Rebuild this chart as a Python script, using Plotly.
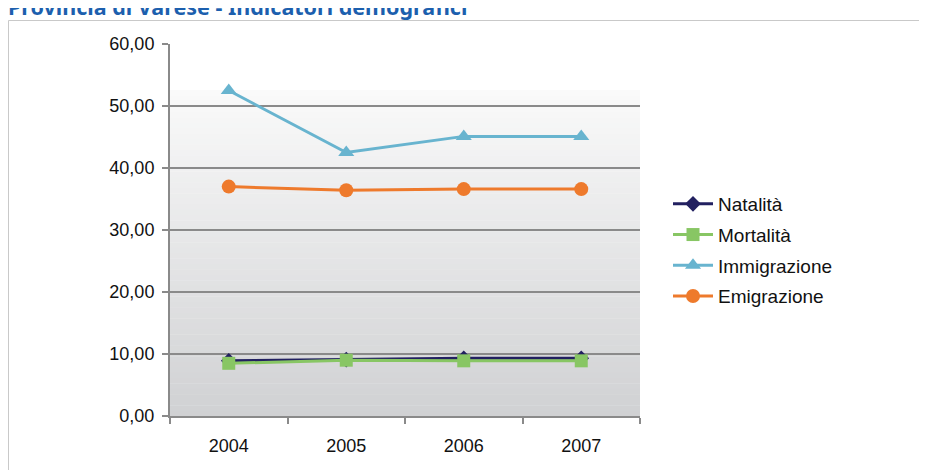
import plotly.graph_objects as go

years = ["2004", "2005", "2006", "2007"]
natalita = [8.9, 9.1, 9.3, 9.3]
mortalita = [8.5, 9.0, 8.9, 8.9]
immigrazione = [52.5, 42.5, 45.1, 45.1]
emigrazione = [37.0, 36.4, 36.6, 36.6]
series_names = ["Natalità", "Mortalità", "Immigrazione", "Emigrazione"]
y_tick_vals = [0, 10, 20, 30, 40, 50, 60]

OFF = 8  # default page body margin
W, H = 927 - OFF, 470 - OFF
# plot area in page pixels: x 170..640, y 44..416
L, T = 170 - OFF, 44 - OFF
R = W - (640 - OFF)
B = H - (416 - OFF)
PW, PH = W - L - R, H - T - B

def px_x(p):  # page pixel -> paper
    return (p - OFF - L) / PW

def px_y(p):
    return 1 - (p - OFF - T) / PH

fig = go.Figure()
styles = [
    dict(color="#222060", symbol="diamond", size=12),
    dict(color="#88c664", symbol="square", size=13),
    dict(color="#68b4cf", symbol="triangle-up", size=14),
    dict(color="#ee7a2c", symbol="circle", size=14),
]
for name, vals, st in zip(series_names, [natalita, mortalita, immigrazione, emigrazione], styles):
    fig.add_trace(go.Scatter(
        x=years, y=vals, name=name, mode="lines+markers", legendgroup=name,
        line=dict(color=st["color"], width=3),
        marker=dict(color=st["color"], symbol=st["symbol"], size=st["size"]),
    ))

# gradient background bands (decoration)
shapes = []
top_white = 90  # page pixel where gradient begins
bottom = 416
n = 60
c0 = (250, 250, 250)
c1 = (208, 209, 211)
shapes.append(dict(type="rect", xref="paper", yref="paper", x0=0, x1=1,
                   y0=px_y(top_white), y1=1, fillcolor="white", line_width=0, layer="below"))
for i in range(n):
    y0p = top_white + (bottom - top_white) * i / n
    y1p = top_white + (bottom - top_white) * (i + 1) / n
    t = (i + 0.5) / n
    c = tuple(round(c0[k] + (c1[k] - c0[k]) * t) for k in range(3))
    shapes.append(dict(type="rect", xref="paper", yref="paper", x0=0, x1=1,
                       y0=px_y(y1p) - 0.001, y1=px_y(y0p),
                       fillcolor="rgb(%d,%d,%d)" % c, line_width=0, layer="below"))
# outer border box
shapes.append(dict(type="rect", xref="paper", yref="paper",
                   x0=px_x(8.5), x1=px_x(940), y0=px_y(480), y1=px_y(20.5),
                   line=dict(color="#c9c9c9", width=1), fillcolor="rgba(0,0,0,0)", layer="below"))

fig.update_layout(
    width=W, height=H,
    margin=dict(l=L, r=R, t=T, b=B, autoexpand=False),
    paper_bgcolor="white", plot_bgcolor="rgba(0,0,0,0)",
    separators=",.",
    font=dict(family="Liberation Sans, Arial, sans-serif", size=18, color="#111111"),
    shapes=shapes,
    showlegend=True,
    legend=dict(x=px_x(668), y=px_y(185), xanchor="left", yanchor="top",
                font=dict(size=19, color="#111111"), tracegroupgap=3, itemwidth=40,
                bgcolor="rgba(0,0,0,0)"),
    annotations=[dict(
        text="<b>Provincia di Varese - Indicatori demografici</b>",
        xref="paper", yref="paper", x=px_x(6), y=px_y(23),
        xanchor="left", yanchor="bottom", showarrow=False,
        font=dict(family="Noto Sans, Open Sans, sans-serif", size=21.5, color="#1c5fae"),
    )],
)
fig.update_xaxes(
    type="category", range=[-0.5, 3.5],
    showgrid=False, showline=True, linecolor="#8a8a8a", linewidth=2,
    ticks="outside", tickson="boundaries", ticklen=6, tickwidth=1.5, tickcolor="#8a8a8a",
    ticklabelstandoff=12, tickfont=dict(size=18),
)
fig.update_yaxes(
    range=[0, 60], tickvals=y_tick_vals, tickformat=".2f",
    showgrid=True, gridcolor="#8a8a8a", gridwidth=1.5,
    showline=True, linecolor="#8a8a8a", linewidth=2,
    ticks="outside", ticklen=6, tickwidth=1.5, tickcolor="#8a8a8a",
    zeroline=False, tickfont=dict(size=18), ticklabelstandoff=4,
)

fig.write_html("out.html")
